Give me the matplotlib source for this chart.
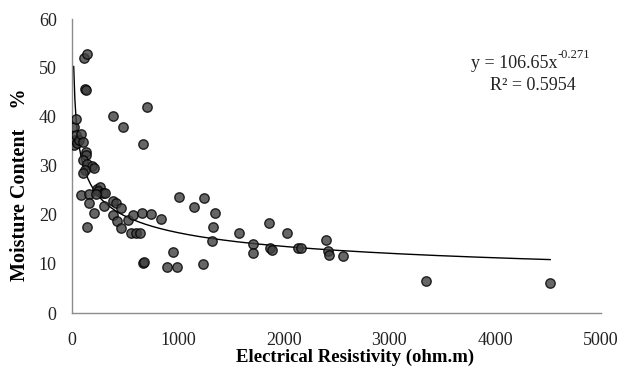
import numpy as np
import matplotlib.pyplot as plt

plt.rcParams['font.family'] = ['Liberation Serif', 'DejaVu Serif']

# Electrical resistivity (ohm.m) vs moisture content (%)
resistivity = [16, 38, 19, 28, 38, 44, 69, 85, 101,
               132, 132, 107, 139, 186, 208, 123, 107,
               113, 139, 123, 128,
               391, 706, 479, 668,
               82, 164, 164, 208, 145, 233, 265, 249, 290, 312, 227, 306,
               391, 416, 460, 391, 422, 460, 530, 577, 658, 745, 840,
               555, 608, 646, 674, 680, 951, 898, 989,
               1012, 1156, 1245, 1352, 1336, 1320, 1241,
               1582, 1714, 1714, 1865, 1871, 1890, 2029, 2139, 2161,
               2401, 2415, 2432, 2558, 3346, 4520]
moisture = [37.9, 39.5, 34.3, 35.3, 36.3, 34.6, 35.3, 36.5, 35.0,
            32.9, 32.2, 31.2, 30.5, 29.9, 29.5, 29.2, 28.5,
            52.0, 52.8, 45.7, 45.5,
            40.2, 42.1, 37.9, 34.5,
            24.0, 24.2, 22.4, 20.5, 17.6, 25.4, 25.8, 24.8, 24.4, 24.5, 24.3, 21.8,
            22.9, 22.4, 21.5, 20.0, 18.8, 17.3, 19.0, 20.0, 20.5, 20.2, 19.2,
            16.4, 16.4, 16.4, 10.2, 10.5, 12.5, 9.4, 9.4,
            23.7, 21.6, 23.5, 20.5, 17.6, 14.6, 10.1,
            16.4, 14.0, 12.3, 18.4, 13.3, 12.9, 16.4, 13.2, 13.3,
            14.9, 12.7, 11.8, 11.6, 6.5, 6.1]

# power trendline as printed on the chart
coef_a = 106.65
coef_b = -0.271
r2 = 0.5954

x = np.array(resistivity, dtype=float)
y = np.array(moisture, dtype=float)

fig = plt.figure(figsize=(6.23, 3.69), dpi=100)
ax = fig.add_axes([72/623, 1 - 313/369, (601 - 72)/623, (313 - 19)/369])

ax.scatter(x, y, s=46, facecolor='#404040', alpha=0.8, edgecolor='black',
           linewidth=1.0, zorder=3)

xt = np.linspace(x.min(), x.max(), 400)
ax.plot(xt, coef_a * xt ** coef_b, color='black', lw=1.0, zorder=2)

ax.set_xlim(0, 5000)
ax.set_ylim(0, 60)
ax.set_xticks(range(0, 5001, 1000))
ax.set_yticks(range(0, 61, 10))
ax.tick_params(length=0, labelsize=13, colors='#222222')
ax.tick_params(axis='y', pad=11)
ax.tick_params(axis='x', pad=14)

for side in ['top', 'right']:
    ax.spines[side].set_visible(False)
for side in ['left', 'bottom']:
    ax.spines[side].set_color('#8c8c8c')
    ax.spines[side].set_linewidth(1.0)

ax.set_xlabel('Electrical Resistivity (ohm.m)', fontsize=13.5, fontweight='bold')
ax.xaxis.set_label_coords(0.535, -0.123)
ax.set_ylabel('Moisture Content    %', fontsize=14.5, fontweight='bold')
ax.yaxis.set_label_coords(-0.08, 0.435)

# trendline equation, superscript as its own text so the minus stays a hyphen
ax.text(4585, 51.0, 'y = 106.65x', fontsize=13, ha='right', va='center',
        color='#222222')
ax.text(4590, 52.6, '-0.271', fontsize=9, ha='left', va='center',
        color='#222222')
ax.text(4357, 46.5, 'R² = 0.5954', fontsize=13, ha='center', va='center',
        color='#222222')

fig.savefig('out.png', dpi=100)
